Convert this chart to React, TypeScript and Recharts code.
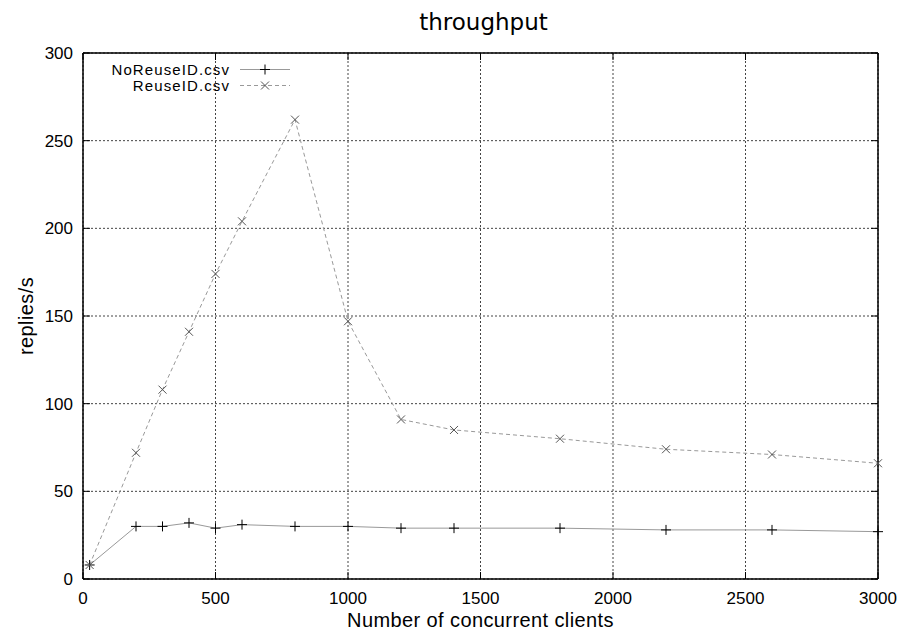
import React from 'react';
import { LineChart, Line, XAxis, YAxis, CartesianGrid, Legend, Label } from 'recharts';

const clients = [25, 200, 300, 400, 500, 600, 800, 1000, 1200, 1400, 1800, 2200, 2600, 3000];
const noReuse = [8, 30, 30, 32, 29, 31, 30, 30, 29, 29, 29, 28, 28, 27];
const reuse = [8, 72, 108, 141, 174, 204, 262, 147, 91, 85, 80, 74, 71, 66];
const xTicks = [0, 500, 1000, 1500, 2000, 2500, 3000];
const yTicks = [0, 50, 100, 150, 200, 250, 300];

const data = clients.map((c, i) => ({ clients: c, noReuse: noReuse[i], reuse: reuse[i] }));

const FONT = '"Liberation Sans", Arial, sans-serif';
const TICK_LEN = 7;

const PlusDot = (props: any) => {
  const { cx, cy } = props;
  if (cx == null || cy == null) return null;
  return (
    <g>
      <line x1={cx - 5} x2={cx + 5} y1={cy} y2={cy} stroke="#000" strokeWidth={1} />
      <line x1={cx} x2={cx} y1={cy - 5} y2={cy + 5} stroke="#000" strokeWidth={1} />
    </g>
  );
};

const CrossDot = (props: any) => {
  const { cx, cy } = props;
  if (cx == null || cy == null) return null;
  return (
    <g>
      <line x1={cx - 4} x2={cx + 4} y1={cy - 4} y2={cy + 4} stroke="#555" strokeWidth={1} />
      <line x1={cx - 4} x2={cx + 4} y1={cy + 4} y2={cy - 4} stroke="#555" strokeWidth={1} />
    </g>
  );
};

const BottomTick = (props: any) => {
  const { x, y, payload } = props;
  const axisY = y - 13;
  return (
    <g>
      <line x1={x} x2={x} y1={axisY} y2={axisY - TICK_LEN} stroke="#000" strokeWidth={1} />
      <text x={x} y={y} dy="0.71em" textAnchor="middle" fontFamily={FONT} fontSize={17} fill="#000">
        {payload.value}
      </text>
    </g>
  );
};

const LeftTick = (props: any) => {
  const { x, y, payload } = props;
  const axisX = x + 10;
  return (
    <g>
      <line x1={axisX} x2={axisX + TICK_LEN} y1={y} y2={y} stroke="#000" strokeWidth={1} />
      <text x={x} y={y} dy="0.355em" textAnchor="end" fontFamily={FONT} fontSize={17} fill="#000">
        {payload.value}
      </text>
    </g>
  );
};

const TopTick = (props: any) => {
  const { x, y } = props;
  return <line x1={x} x2={x} y1={y} y2={y + TICK_LEN} stroke="#000" strokeWidth={1} />;
};

const RightTick = (props: any) => {
  const { x, y } = props;
  return <line x1={x} x2={x - TICK_LEN} y1={y} y2={y} stroke="#000" strokeWidth={1} />;
};

const LegendContent = () => (
  <svg width={220} height={36} style={{ display: 'block' }}>
    <text x={140} y={7.5} dy="0.355em" textAnchor="end" fontFamily={FONT} fontSize={15} letterSpacing={1.1} fill="#000">
      NoReuseID.csv
    </text>
    <line x1={150} x2={200} y1={7.5} y2={7.5} stroke="#999" strokeWidth={1} />
    <PlusDot cx={175} cy={7.5} />
    <text x={140} y={23.5} dy="0.355em" textAnchor="end" fontFamily={FONT} fontSize={15} letterSpacing={1.1} fill="#000">
      ReuseID.csv
    </text>
    <line x1={150} x2={200} y1={23.5} y2={23.5} stroke="#999" strokeWidth={1} strokeDasharray="4 3" />
    <CrossDot cx={175} cy={23.5} />
  </svg>
);

export default function App() {
  return (
    <div style={{ position: 'absolute', left: 0, top: 0, width: 898, height: 635, background: '#fff' }}>
      <LineChart width={898} height={635} data={data} margin={{ top: 52, right: 19, bottom: 0, left: 0 }}>
        <CartesianGrid stroke="#444" strokeDasharray="2 2" strokeWidth={1} />
        <XAxis
          dataKey="clients"
          type="number"
          domain={[0, 3000]}
          ticks={xTicks}
          height={56}
          tickSize={0}
          tickMargin={13}
          tickLine={false}
          axisLine={{ stroke: '#000', strokeWidth: 1.5 }}
          tick={<BottomTick />}
          interval={0}
        >
          <Label
            content={(p: any) => {
              const vb = p.viewBox;
              return (
                <text x={vb.x + vb.width / 2} y={vb.y + vb.height - 8} textAnchor="middle" fontFamily={FONT} fontSize={20} letterSpacing={0.4} fill="#000">
                  Number of concurrent clients
                </text>
              );
            }}
          />
        </XAxis>
        <XAxis
          xAxisId="top"
          orientation="top"
          type="number"
          dataKey="clients"
          domain={[0, 3000]}
          ticks={xTicks}
          height={1}
          tickSize={0}
          tickMargin={0}
          tickLine={false}
          axisLine={{ stroke: '#000', strokeWidth: 1.5 }}
          tick={<TopTick />}
          interval={0}
        >
          <Label
            content={(p: any) => {
              const vb = p.viewBox;
              return (
                <text x={vb.x + vb.width / 2 + 3} y={30} textAnchor="middle" fontFamily='"DejaVu Sans", sans-serif' fontSize={23} fill="#000">
                  throughput
                </text>
              );
            }}
          />
        </XAxis>
        <YAxis
          type="number"
          domain={[0, 300]}
          ticks={yTicks}
          width={83}
          tickSize={0}
          tickMargin={10}
          tickLine={false}
          axisLine={{ stroke: '#000', strokeWidth: 1.5 }}
          tick={<LeftTick />}
          interval={0}
        >
          <Label
            content={(p: any) => {
              const vb = p.viewBox;
              const cx = 26;
              const cy = vb.y + vb.height / 2;
              return (
                <text x={cx} y={cy} transform={`rotate(-90 ${cx} ${cy})`} dy="0.355em" textAnchor="middle" fontFamily={FONT} fontSize={20} letterSpacing={0.4} fill="#000">
                  replies/s
                </text>
              );
            }}
          />
        </YAxis>
        <YAxis
          yAxisId="right"
          orientation="right"
          type="number"
          domain={[0, 300]}
          ticks={yTicks}
          width={1}
          tickSize={0}
          tickMargin={0}
          tickLine={false}
          axisLine={{ stroke: '#000', strokeWidth: 1.5 }}
          tick={<RightTick />}
          interval={0}
        />
        <Legend
          layout="horizontal"
          verticalAlign="middle"
          align="center"
          content={<LegendContent />}
          wrapperStyle={{ position: 'absolute', left: 90, top: 62, width: 220, height: 36 }}
        />
        <Line
          type="linear"
          dataKey="noReuse"
          name="NoReuseID.csv"
          stroke="#999"
          strokeWidth={1}
          dot={<PlusDot />}
          activeDot={false}
          isAnimationActive={false}
        />
        <Line
          type="linear"
          dataKey="reuse"
          name="ReuseID.csv"
          stroke="#999"
          strokeWidth={1}
          strokeDasharray="4 3"
          dot={<CrossDot />}
          activeDot={false}
          isAnimationActive={false}
        />
        <Line
          xAxisId="top"
          yAxisId="right"
          type="linear"
          dataKey="reuse"
          stroke="none"
          dot={false}
          activeDot={false}
          legendType="none"
          isAnimationActive={false}
        />
      </LineChart>
    </div>
  );
}
